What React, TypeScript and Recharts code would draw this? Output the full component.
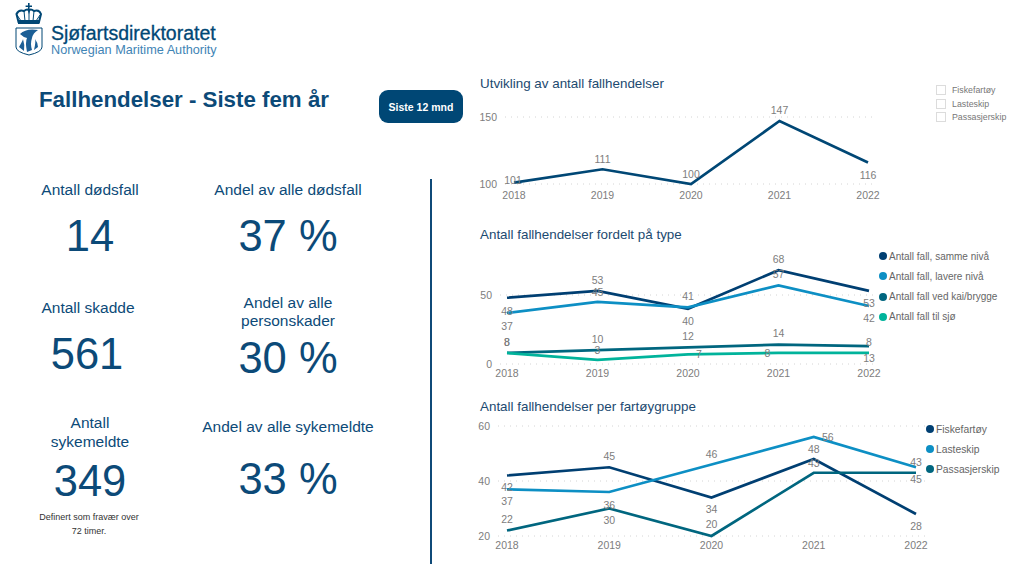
import React from 'react';
import { LineChart, Line, XAxis, YAxis, CartesianGrid } from 'recharts';

const years = ['2018', '2019', '2020', '2021', '2022'];

const totalFalls = [101, 111, 100, 147, 116];

const fallSameLevel = [48, 53, 40, 68, 53];
const fallLowerLevel = [37, 45, 41, 57, 42];
const fallQuay = [8, 10, 12, 14, 13];
const fallSea = [8, 3, 7, 8, 8];

const fishing = [42, 45, 34, 48, 28];
const cargo = [37, 36, 46, 56, 45];
const passenger = [22, 30, 20, 43, 43];

const slicerNames = ['Fiskefartøy', 'Lasteskip', 'Passasjerskip'];

const NAVY = '#004775';
const BLUE = '#0d8fc4';
const TEAL = '#00667f';
const GREEN = '#00b39b';
const TEXT = '#0c4a78';
const GREY = '#7d7d7d';
const FONT = '"Liberation Sans", Arial, sans-serif';

type Series = {
  name: string;
  values: number[];
  color: string;
  offsets: number[][]; // label offset from its point, one [dx, dy] per year
};

const totalSeries: Series[] = [
  { name: 'Antall fallhendelser', values: totalFalls, color: NAVY, offsets: [[-1, -1], [0, -9], [0, -9], [0, -10], [0, 14]] },
];

const typeSeries: Series[] = [
  { name: 'Antall fall, samme nivå', values: fallSameLevel, color: '#003f72', offsets: [[0, 14], [0, -10], [0, 13], [0, -10], [0, 13]] },
  { name: 'Antall fall, lavere nivå', values: fallLowerLevel, color: BLUE, offsets: [[0, 14], [0, -9], [0, -10], [0, -10], [0, 13]] },
  { name: 'Antall fall ved kai/brygge', values: fallQuay, color: TEAL, offsets: [[0, -10], [0, -10], [0, -10], [0, -10], [0, 13]] },
  { name: 'Antall fall til sjø', values: fallSea, color: GREEN, offsets: [[0, -10], [0, -9], [11, 1], [-11, 1], [0, -10]] },
];

const vesselSeries: Series[] = [
  { name: 'Fiskefartøy', values: fishing, color: '#003f72', offsets: [[0, 13], [0, -10], [0, 13], [0, -9], [0, 13]] },
  { name: 'Lasteskip', values: cargo, color: BLUE, offsets: [[0, 13], [0, 14], [0, -9], [14, 1], [0, 13]] },
  { name: 'Passasjerskip', values: passenger, color: TEAL, offsets: [[0, -10], [0, 13], [0, -11], [0, -9], [0, -10]] },
];

function PlotLabel(props: any, offsets: number[][]) {
  const { x, y, value, index } = props;
  const [dx, dy] = offsets[index];
  return (
    <text
      key={index}
      x={x + dx}
      y={y + dy}
      textAnchor="middle"
      dominantBaseline="middle"
      fontSize={10.5}
      fontFamily={FONT}
      fill={GREY}
    >
      {value}
    </text>
  );
}

type TrendProps = {
  series: Series[];
  left: number;
  top: number;
  width: number;
  height: number;
  plotLeft: number;
  plotRight: number;
  plotTop: number;
  bottom: number;
  padLeft: number;
  padRight: number;
  tickGap: number;
  domain: number[];
  ticks: number[];
};

const Trend: React.FC<TrendProps> = (p) => {
  const rows = years.map((year, i) => {
    const row: Record<string, number | string> = { year };
    p.series.forEach((s) => {
      row[s.name] = s.values[i];
    });
    return row;
  });
  return (
    <div style={{ position: 'absolute', left: p.left, top: p.top }}>
      <LineChart
        width={p.width}
        height={p.height}
        data={rows}
        margin={{ top: p.plotTop, right: p.plotRight, bottom: 0, left: 0 }}
      >
        <CartesianGrid horizontal vertical={false} syncWithTicks stroke="#d4d4d4" strokeDasharray="1 5" />
        <XAxis
          dataKey="year"
          axisLine={false}
          tickLine={false}
          tickSize={0}
          tickMargin={p.tickGap}
          height={p.bottom}
          padding={{ left: p.padLeft, right: p.padRight }}
          interval={0}
          tick={{ fontSize: 10.5, fill: GREY, fontFamily: FONT }}
        />
        <YAxis
          type="number"
          domain={p.domain}
          ticks={p.ticks}
          width={p.plotLeft}
          axisLine={false}
          tickLine={false}
          tickSize={0}
          tickMargin={8}
          tick={{ fontSize: 10.5, fill: GREY, fontFamily: FONT }}
        />
        {p.series.map((s) => (
          <Line
            key={s.name}
            dataKey={s.name}
            stroke={s.color}
            strokeWidth={2.7}
            dot={false}
            isAnimationActive={false}
            label={(lp: any) => PlotLabel(lp, s.offsets)}
          />
        ))}
      </LineChart>
    </div>
  );
};

const Title = ({ x, y, children }: any) => (
  <div style={{ position: 'absolute', left: x, top: y, fontSize: 13.4, color: '#1c4a70', whiteSpace: 'nowrap', lineHeight: '16px' }}>
    {children}
  </div>
);

const Legend = ({ series, x, y, step, size }: { series: Series[]; x: number; y: number; step: number; size: number }) => (
  <>
    {series.map((s, i) => (
      <div
        key={s.name}
        style={{
          position: 'absolute',
          left: x,
          top: y + i * step,
          height: 12,
          display: 'flex',
          alignItems: 'center',
          fontSize: size,
          color: '#666',
          whiteSpace: 'nowrap',
        }}
      >
        <span style={{ width: 8, height: 8, borderRadius: 4, background: s.color, marginRight: 2, display: 'inline-block' }} />
        {s.name}
      </div>
    ))}
  </>
);

// centred text block, cy is the vertical middle of the block
const Centered = ({ cx, cy, size, lines, lineHeight, color = TEXT }: any) => (
  <div
    style={{
      position: 'absolute',
      left: cx - 110,
      width: 220,
      top: cy - (lines.length * lineHeight) / 2,
      textAlign: 'center',
      fontSize: size,
      lineHeight: `${lineHeight}px`,
      color,
    }}
  >
    {lines.map((l: string) => (
      <div key={l}>{l}</div>
    ))}
  </div>
);

const Logo = () => (
  <>
    <svg width={50} height={58} style={{ position: 'absolute', left: 10, top: 0 }}>
      <path d="M18 3h1.6v2.4H22V7h-2.4v3H18V7h-2.4V5.400H18z" fill={NAVY} />
      <path d="M8.500 22 6.500 14Q9 9 14 11 18 8 19 11 20 8 24 11 29 9 31 14L29 22z" fill="none" stroke={NAVY} strokeWidth={2} />
      <rect x={8} y={20} width={21.500} height={4} fill={NAVY} />
      <path d="M7 15 11 21M14 11 15 21M19 10V21M24 11 23 21M30 15 26 21" stroke={NAVY} strokeWidth={1} />
      <path d="M6 28H32V47Q32 52 19 55 6 52 6 47z" fill="#fff" stroke={NAVY} strokeWidth={1} />
      <path d="M10 34Q16 28 28 30 23 33 22 38 20 44 22 50L17 52Q15 42 17 38 13 37 10 34z" fill="#1c5f96" />
      <path d="M9 47Q13 40 13 39 15 45 14 51zM24 50Q26 42 25 39 28 43 28 47z" fill="#1c5f96" />
    </svg>
    <div style={{ position: 'absolute', left: 51, top: 21, fontSize: 19.500, lineHeight: '24px', color: NAVY, whiteSpace: 'nowrap', WebkitTextStroke: '0.3px #004775' }}>
      Sjøfartsdirektoratet
    </div>
    <div style={{ position: 'absolute', left: 51, top: 43, fontSize: 12.700, lineHeight: '15px', color: '#3f84b5', whiteSpace: 'nowrap' }}>
      Norwegian Maritime Authority
    </div>
  </>
);

export default function App() {
  return (
    <div style={{ position: 'fixed', left: 0, top: 0, width: 1024, height: 585, background: '#fff', overflow: 'hidden', fontFamily: FONT }}>
      <Logo />

      <div style={{ position: 'absolute', left: 39, top: 87, fontSize: 22.300, fontWeight: 700, color: TEXT, whiteSpace: 'nowrap', lineHeight: '26px' }}>
        Fallhendelser - Siste fem år
      </div>
      <div
        style={{
          position: 'absolute', left: 379, top: 90, width: 84, height: 33, borderRadius: 9, background: NAVY, color: '#fff',
          fontSize: 10.500, fontWeight: 700, display: 'flex', alignItems: 'center', justifyContent: 'center',
        }}
      >
        Siste 12 mnd
      </div>

      <Centered cx={90} cy={190} size={15.500} lineHeight={18} lines={['Antall dødsfall']} />
      <Centered cx={90} cy={236} size={43.500} lineHeight={50} lines={['14']} />
      <Centered cx={288} cy={190} size={15.500} lineHeight={18} lines={['Andel av alle dødsfall']} />
      <Centered cx={288} cy={236} size={43.500} lineHeight={50} lines={['37 %']} />

      <Centered cx={88} cy={308} size={15.500} lineHeight={18} lines={['Antall skadde']} />
      <Centered cx={87} cy={354} size={43.500} lineHeight={50} lines={['561']} />
      <Centered cx={288} cy={312} size={15.500} lineHeight={18} lines={['Andel av alle', 'personskader']} />
      <Centered cx={288} cy={358} size={43.500} lineHeight={50} lines={['30 %']} />

      <Centered cx={90} cy={432} size={15.500} lineHeight={19} lines={['Antall', 'sykemeldte']} />
      <Centered cx={90} cy={481} size={43.500} lineHeight={50} lines={['349']} />
      <Centered cx={89} cy={524} size={9} lineHeight={14} color="#333" lines={['Definert som fravær over', '72 timer.']} />
      <Centered cx={288} cy={427} size={15.500} lineHeight={18} lines={['Andel av alle sykemeldte']} />
      <Centered cx={288} cy={479} size={43.500} lineHeight={50} lines={['33 %']} />

      <div style={{ position: 'absolute', left: 430, top: 179, width: 2, height: 385, background: '#0f4a78' }} />

      <Title x={480} y={76}>Utvikling av antall fallhendelser</Title>
      <Trend series={totalSeries} left={470} top={100} width={420} height={110} plotLeft={35} plotRight={15} plotTop={17} bottom={26} padLeft={9} padRight={7} tickGap={8} domain={[100, 150]} ticks={[100, 150]} />
      {slicerNames.map((name, i) => (
        <div key={name} style={{ position: 'absolute', left: 936, top: 85 + i * 13.500, height: 10, display: 'flex', alignItems: 'center', fontSize: 8.800, color: '#777', whiteSpace: 'nowrap' }}>
          <span style={{ width: 8, height: 8, border: '1px solid #dcdcdc', marginRight: 6, display: 'inline-block' }} />
          {name}
        </div>
      ))}

      <Title x={480} y={227}>Antall fallhendelser fordelt på type</Title>
      <Trend series={typeSeries} left={470} top={250} width={420} height={140} plotLeft={30} plotRight={15} plotTop={10.500} bottom={26} padLeft={7} padRight={6} tickGap={6} domain={[0, 75]} ticks={[0, 50]} />
      <Legend series={typeSeries} x={879} y={250} step={20.300} size={10} />

      <Title x={480} y={399}>Antall fallhendelser per fartøygruppe</Title>
      <Trend series={vesselSeries} left={470} top={416} width={470} height={146} plotLeft={28} plotRight={15} plotTop={10} bottom={26} padLeft={9} padRight={9} tickGap={6} domain={[20, 60]} ticks={[20, 40, 60]} />
      <Legend series={vesselSeries} x={926} y={423} step={20} size={10.300} />
    </div>
  );
}
